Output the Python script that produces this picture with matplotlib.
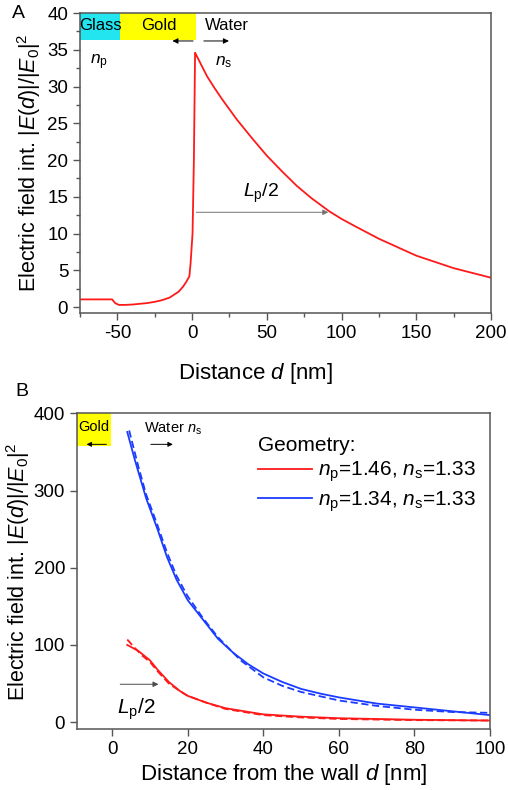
import matplotlib
matplotlib.use("Agg")
import matplotlib.pyplot as plt
from matplotlib.ticker import MultipleLocator

plt.rcParams['font.family'] = ['Liberation Sans', 'DejaVu Sans']
plt.rcParams['mathtext.fontset'] = 'custom'
plt.rcParams['mathtext.rm'] = 'Liberation Sans'
plt.rcParams['mathtext.it'] = 'Liberation Sans:italic'
plt.rcParams['mathtext.bf'] = 'Liberation Sans:bold'
plt.rcParams['axes.unicode_minus'] = False

# panel A: field profile across glass / gold / water
d_a = [-75, -53.5, -51.5, -49, -45, -40, -35, -30, -25, -20, -15, -12, -9, -6, -4, -1.8,
       -1.0, 0.3, 1.2, 2, 3, 5, 7, 10, 15, 20, 25, 30, 40, 50, 60, 70, 80, 92, 100, 110, 125,
       150, 175, 200]
int_a = [1.05, 1.05, 0.55, 0.3, 0.3, 0.35, 0.45, 0.55, 0.72, 0.95, 1.3, 1.7, 2.1, 2.8, 3.4, 4.2,
         6.0, 10.0, 20.0, 34.6, 34.2, 33.4, 32.6, 31.4, 29.8, 28.3, 26.9, 25.5, 23.0, 20.6, 18.5,
         16.5, 14.8, 13.0, 12.0, 10.9, 9.3, 7.0, 5.3, 4.0]

# panel B: two geometries, solid = calculation, dashed = fit
d_blue = [4, 6, 9, 12, 14.5, 17, 20, 24, 28, 32, 36, 40, 45, 50, 55, 60, 70, 80, 90, 100]
blue = [376, 340, 290, 250, 214, 185, 158, 133, 108, 90, 75, 63, 52, 43, 37, 32, 24, 19, 14, 9]
d_blue_fit = [4.5, 7, 9, 12, 14.5, 17, 20, 24, 28, 34, 40, 45, 50, 60, 70, 80, 90, 100]
blue_fit = [378, 330, 295, 255, 220, 190, 163, 135, 110, 80, 58, 47, 39, 28, 21, 16, 13, 12]

d_red = [4, 7, 10, 12, 15, 18, 20, 25, 30, 35, 40, 50, 60, 80, 100]
red = [100, 92, 80, 68, 52, 40, 34, 25, 18, 14, 10, 7, 5, 3, 2]
d_red_fit = [4, 6, 8, 10, 12, 15, 18, 20, 25, 30, 40, 50, 60, 80, 100]
red_fit = [107, 96, 86, 78, 66, 50, 40, 34, 25, 17, 9, 6, 4, 2.5, 2]

labels = [r'$n_\mathrm{p}$=1.46, $n_\mathrm{s}$=1.33', r'$n_\mathrm{p}$=1.34, $n_\mathrm{s}$=1.33']

red_c = '#ff1a1a'
blue_c = '#1a3cff'
spine_c = '#555555'

fig = plt.figure(figsize=(5.08, 7.90), dpi=100)
ax1 = fig.add_axes([0.1575, 0.6038, 0.809, 0.3797])
ax2 = fig.add_axes([0.1516, 0.0772, 0.813, 0.3994])

for ax in (ax1, ax2):
    for s in ax.spines.values():
        s.set_color(spine_c)
        s.set_linewidth(1.1)
    ax.tick_params(direction='out', length=5, width=1, color=spine_c, labelsize=13.5,
                   top=False, right=False)
    ax.tick_params(which='minor', direction='out', length=3, width=1, color=spine_c,
                   top=False, right=False)

ylab = r'Electric field int. $|E(d)|/|E_0|^2$'

# ---- A ----
ax1.plot(d_a, int_a, color=red_c, lw=1.3)
ax1.set_xlim(-75, 200)
ax1.set_ylim(-0.8, 40)
ax1.xaxis.set_major_locator(MultipleLocator(50))
ax1.xaxis.set_minor_locator(MultipleLocator(25))
ax1.yaxis.set_major_locator(MultipleLocator(5))
ax1.yaxis.set_minor_locator(MultipleLocator(2.5))
ax1.set_xlabel(r'Distance $d$ [nm]', fontsize=16)
ax1.xaxis.set_label_coords(0.428, -0.16)
ax1.set_ylabel(ylab, fontsize=15.5, labelpad=3)

ax1.axvspan(-75, -48, ymin=(36.4 + 0.8) / 40.8, ymax=1, color='#22e5f0', lw=0)
ax1.axvspan(-48, 2.5, ymin=(36.4 + 0.8) / 40.8, ymax=1, color='#ffff00', lw=0)
ax1.text(-61.5, 38.3, 'Glass', fontsize=12, ha='center', va='center')
ax1.text(-22.5, 38.3, 'Gold', fontsize=12, ha='center', va='center')
ax1.text(23, 38.3, 'Water', fontsize=12, ha='center', va='center')
ax1.annotate('', xy=(-15, 36.2), xytext=(2.5, 36.2),
             arrowprops=dict(arrowstyle='-|>', color='k', lw=0.7, mutation_scale=8))
ax1.annotate('', xy=(26.5, 36.2), xytext=(6, 36.2),
             arrowprops=dict(arrowstyle='-|>', color='k', lw=0.7, mutation_scale=8))
ax1.text(-62, 33.3, r'$n_\mathrm{p}$', fontsize=12.5, ha='center', va='center')
ax1.text(21, 33.3, r'$n_\mathrm{s}$', fontsize=12.5, ha='center', va='center')
ax1.annotate('', xy=(93, 12.9), xytext=(1, 12.9),
             arrowprops=dict(arrowstyle='-|>', color='0.45', lw=0.7, mutation_scale=8))
ax1.text(46, 15.4, r'$L_\mathrm{p}$/2', fontsize=14, ha='center', va='center')

# ---- B ----
ax2.plot(d_red, red, color=red_c, lw=1.3, label=labels[0])
ax2.plot(d_blue, blue, color=blue_c, lw=1.3, label=labels[1])
ax2.plot(d_red_fit, red_fit, color=red_c, lw=1.3, ls=(0, (4, 2)))
ax2.plot(d_blue_fit, blue_fit, color=blue_c, lw=1.3, ls=(0, (4, 2)))
ax2.set_xlim(-9.3, 100)
ax2.set_ylim(-9, 400)
ax2.xaxis.set_major_locator(MultipleLocator(20))
ax2.yaxis.set_major_locator(MultipleLocator(100))
ax2.set_xlabel(r'Distance from the wall $d$ [nm]', fontsize=16, labelpad=3)
ax2.set_ylabel(ylab, fontsize=15.5, labelpad=1)

ax2.axvspan(-9.3, -0.3, ymin=(358 + 9) / 409, ymax=1, color='#ffff00', lw=0)
ax2.text(-4.8, 382, 'Gold', fontsize=10.5, ha='center', va='center')
ax2.annotate('', xy=(-7.5, 360), xytext=(-0.8, 360),
             arrowprops=dict(arrowstyle='-|>', color='k', lw=0.7, mutation_scale=7))
ax2.text(8.5, 380, r'Water $n_\mathrm{s}$', fontsize=10.5, ha='left', va='center')
ax2.annotate('', xy=(16.8, 360), xytext=(9.5, 360),
             arrowprops=dict(arrowstyle='-|>', color='k', lw=0.7, mutation_scale=7))
ax2.annotate('', xy=(13, 49), xytext=(1.4, 49),
             arrowprops=dict(arrowstyle='-|>', color='0.3', lw=0.7, mutation_scale=8))
ax2.text(6.5, 17, r'$L_\mathrm{p}$/2', fontsize=15, ha='center', va='center')

leg = ax2.legend(loc='upper left', frameon=False, fontsize=15, title='Geometry:',
                 title_fontsize=15, handlelength=2.6, handletextpad=0.3,
                 borderaxespad=0.0, borderpad=0.0, labelspacing=0.25,
                 bbox_to_anchor=(0.438, 0.93))
leg._legend_box.align = 'left'

fig.text(0.037, 0.983, 'A', fontsize=14, ha='center', va='center')
fig.text(0.043, 0.504, 'B', fontsize=14, ha='center', va='center')

fig.savefig('out.png', dpi=100)
